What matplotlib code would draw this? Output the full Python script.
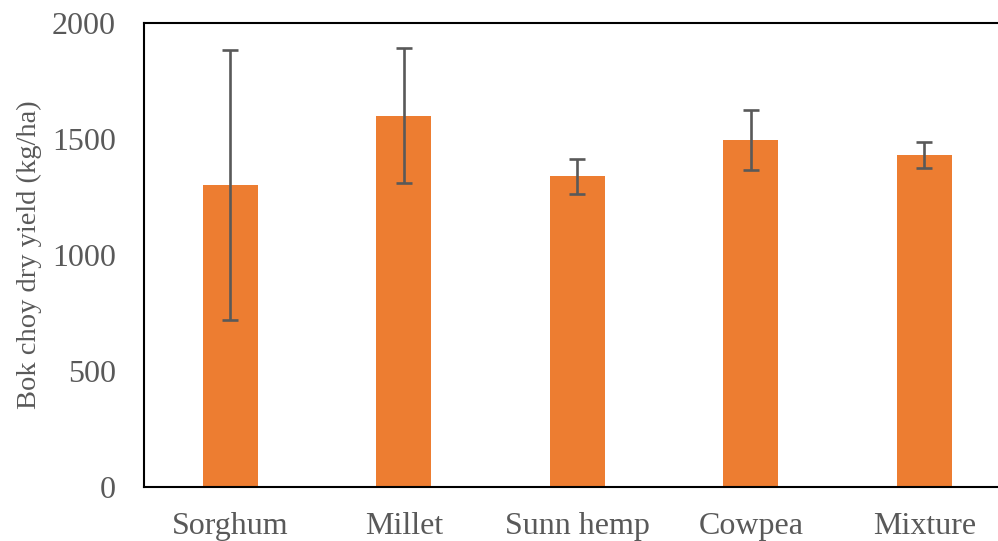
import matplotlib.pyplot as plt
import numpy as np

# bok choy dry yield by cover crop
crops = ['Sorghum', 'Millet', 'Sunn hemp', 'Cowpea', 'Mixture']
yield_kg = [1300, 1600, 1340, 1497, 1433]
err = [582, 291, 75, 130, 56]

plt.rcParams['font.family'] = ['Liberation Serif', 'DejaVu Serif']
grey = '#595959'

fig = plt.figure(figsize=(9.98, 5.41), dpi=100)
# the right spine sits just past the right edge of the picture
ax = fig.add_axes([143.5 / 998, 1 - 487 / 541, 867.5 / 998, 464 / 541])

x = np.arange(len(crops))
ax.bar(x, yield_kg, width=0.317, color='#ED7D31', zorder=2)
ax.errorbar(x, yield_kg, yerr=err, fmt='none', ecolor=grey,
            elinewidth=1.9, capsize=6, capthick=1.9, zorder=3)

ax.set_xlim(-0.5, len(crops) - 0.5)
ax.set_ylim(0, 2000)
ax.set_yticks([0, 500, 1000, 1500, 2000])
ax.set_xticks(x)
ax.set_xticklabels(crops)
ax.tick_params(axis='both', length=0, labelsize=23, labelcolor=grey)
ax.tick_params(axis='y', pad=20)
ax.tick_params(axis='x', pad=18)
ax.set_ylabel('Bok choy dry yield (kg/ha)', fontsize=20.5, color=grey, labelpad=7)

for s in ax.spines.values():
    s.set_linewidth(1.5)
    s.set_color('black')

fig.savefig('out.png', dpi=100)
